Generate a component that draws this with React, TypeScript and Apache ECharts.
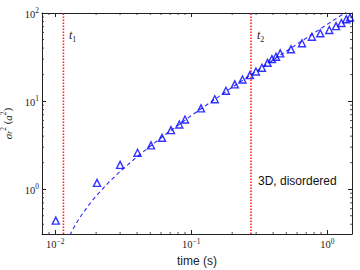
import React, { useEffect, useRef } from "react";
import * as echarts from "echarts";

const timeS = [0.0101, 0.0203, 0.030, 0.0403, 0.0506, 0.061, 0.071, 0.0817, 0.090, 0.118, 0.149, 0.18, 0.209, 0.238, 0.27, 0.299, 0.331, 0.364, 0.392, 0.42, 0.451, 0.541, 0.652, 0.771, 0.889, 1.035, 1.16, 1.27, 1.38, 1.47];
const msd = [0.44, 1.18, 1.89, 2.59, 3.14, 3.83, 4.68, 5.43, 6.19, 8.26, 10.5, 13.1, 15.5, 17.6, 19.7, 21.7, 23.9, 27.2, 30.0, 31.9, 34.8, 38.7, 45.3, 53.8, 58.8, 64.1, 71, 77, 85, 89];

const fitT = [0.0128, 0.0135, 0.015, 0.0175, 0.02, 0.025, 0.03, 0.04, 0.06, 0.1, 0.2, 0.5, 1.0, 1.5];
const fitS = [0.30, 0.35, 0.465, 0.65, 0.84, 1.215, 1.59, 2.34, 3.84, 6.84, 14.34, 36.84, 74.34, 111.84];

const t1 = 0.0115;
const t2 = 0.275;

const xMin = 0.008;
const xMax = 1.52;
const yMin = 0.31;
const yMax = 100;

const minorX = [0.009, 0.02, 0.03, 0.04, 0.05, 0.06, 0.07, 0.08, 0.09, 0.2, 0.3, 0.4, 0.5, 0.6, 0.7, 0.8, 0.9];
const minorY = [0.4, 0.5, 0.6, 0.7, 0.8, 0.9, 2, 3, 4, 5, 6, 7, 8, 9, 20, 30, 40, 50, 60, 70, 80, 90];

const AX = "#222";
const SERIF = "'Liberation Serif', 'DejaVu Serif', serif";
const SANS = "'Liberation Sans', Arial, sans-serif";

const tickRich = {
  b: { fontSize: 10.5, fontFamily: SERIF, color: AX, lineHeight: 13, verticalAlign: "bottom" },
  s: { fontSize: 7.5, fontFamily: SERIF, color: AX, lineHeight: 13, verticalAlign: "top", padding: [0, 0, 4, 0] },
};

function powFmt(v: number) {
  const l = Math.log10(v);
  const e = Math.round(l);
  if (Math.abs(l - e) > 1e-6) return "";
  return `{b|10}{s|${e < 0 ? "\u2212" : ""}${Math.abs(e)}}`;
}

function vLine(t: number) {
  return {
    type: "line",
    data: [[t, yMin], [t, yMax]],
    showSymbol: false,
    symbol: "none",
    silent: true,
    lineStyle: { color: "#ff2020", width: 1.6, type: [1.5, 1.5] },
    z: 1,
  };
}

export default function App() {
  const ref = useRef<HTMLDivElement>(null);
  useEffect(() => {
    if (!ref.current) return;
    const chart = echarts.init(ref.current, undefined, { renderer: "svg" });
    const grid = { left: 42, top: 13, right: 8, bottom: 36, containLabel: false, outerBoundsMode: "none" };
    const xBase = {
      type: "log" as const,
      min: xMin,
      max: xMax,
      logBase: 10,
      splitLine: { show: false },
      axisLine: { show: true, onZero: false, lineStyle: { color: AX, width: 1 } },
      axisTick: { show: true, inside: true, length: 4, lineStyle: { color: AX, width: 1 } },
    };
    const yBase = {
      type: "log" as const,
      min: yMin,
      max: yMax,
      logBase: 10,
      splitLine: { show: false },
      axisLine: { show: true, onZero: false, lineStyle: { color: AX, width: 1 } },
      axisTick: { show: true, inside: true, length: 4, lineStyle: { color: AX, width: 1 } },
    };
    chart.setOption({
      animation: false,
      backgroundColor: "#fff",
      grid,
      xAxis: [
        {
          ...xBase,
          position: "bottom",
          name: "time (s)",
          nameLocation: "middle",
          nameGap: 19,
          nameTextStyle: { fontFamily: SANS, fontSize: 12, color: AX },
          axisLabel: { show: true, margin: 3, formatter: powFmt, rich: tickRich, showMinLabel: true, showMaxLabel: true },
        },
        { ...xBase, position: "top", axisLabel: { show: false } },
      ],
      yAxis: [
        {
          ...yBase,
          position: "left",
          name: "{i|σ}{sub|r}{sup|2} ({i|a}{sup|2})",
          nameLocation: "middle",
          nameGap: 22,
          nameRotate: 90,
          nameTextStyle: {
            rich: {
              i: { fontFamily: SERIF, fontStyle: "italic", fontSize: 11, color: AX, lineHeight: 14, verticalAlign: "bottom" },
              sub: { fontFamily: SERIF, fontStyle: "italic", fontSize: 7.5, color: AX, lineHeight: 14, verticalAlign: "bottom" },
              sup: { fontFamily: SERIF, fontSize: 7.5, color: AX, lineHeight: 14, verticalAlign: "top" },
            },
            fontFamily: SERIF,
            fontSize: 11,
            color: AX,
          },
          axisLabel: { show: true, margin: 3, formatter: powFmt, rich: tickRich, showMinLabel: true, showMaxLabel: true },
        },
        { ...yBase, position: "right", axisLabel: { show: false } },
      ],
      series: [
        vLine(t1),
        vLine(t2),
        {
          type: "line",
          data: fitT.map((t, i) => [t, fitS[i]]),
          showSymbol: false,
          symbol: "none",
          lineStyle: { color: "#2b2bff", width: 1.1, type: [4, 3] },
          clip: true,
          z: 2,
        },
        {
          type: "scatter",
          data: timeS.map((t, i) => [t, msd[i]]),
          symbol: "triangle",
          symbolSize: 7,
          itemStyle: { color: "rgba(255,255,255,0)", borderColor: "#0000ff", borderWidth: 1.4 },
          z: 3,
        },
        {
          type: "custom",
          silent: true,
          data: minorX.map((v) => [v, yMin]),
          clip: false,
          renderItem: (_p: any, api: any) => {
            const v = api.value(0);
            const b = api.coord([v, yMin]);
            const t = api.coord([v, yMax]);
            const st = { stroke: AX, lineWidth: 0.8 };
            return {
              type: "group",
              children: [
                { type: "line", shape: { x1: b[0], y1: b[1], x2: b[0], y2: b[1] - 2 }, style: st },
                { type: "line", shape: { x1: t[0], y1: t[1], x2: t[0], y2: t[1] + 2 }, style: st },
              ],
            };
          },
        },
        {
          type: "custom",
          silent: true,
          data: minorY.map((v) => [xMin, v]),
          clip: false,
          renderItem: (_p: any, api: any) => {
            const v = api.value(1);
            const l = api.coord([xMin, v]);
            const r = api.coord([xMax, v]);
            const st = { stroke: AX, lineWidth: 0.8 };
            return {
              type: "group",
              children: [
                { type: "line", shape: { x1: l[0], y1: l[1], x2: l[0] + 2, y2: l[1] }, style: st },
                { type: "line", shape: { x1: r[0], y1: r[1], x2: r[0] - 2, y2: r[1] }, style: st },
              ],
            };
          },
        },
      ],
      graphic: [
        {
          type: "text",
          x: 69,
          y: 27,
          style: {
            text: "{t|t}{s|1}",
            rich: {
              t: { fontFamily: SERIF, fontStyle: "italic", fontSize: 12, fill: AX, lineHeight: 14, verticalAlign: "bottom" },
              s: { fontFamily: SERIF, fontSize: 8, fill: AX, lineHeight: 14, verticalAlign: "bottom", padding: [0, 0, -2, 0] },
            },
          },
        },
        {
          type: "text",
          x: 257,
          y: 27,
          style: {
            text: "{t|t}{s|2}",
            rich: {
              t: { fontFamily: SERIF, fontStyle: "italic", fontSize: 12, fill: AX, lineHeight: 14, verticalAlign: "bottom" },
              s: { fontFamily: SERIF, fontSize: 8, fill: AX, lineHeight: 14, verticalAlign: "bottom", padding: [0, 0, -2, 0] },
            },
          },
        },
        {
          type: "text",
          x: 258,
          y: 175,
          style: { text: "3D, disordered", fontFamily: SANS, fontSize: 12, fill: "#111" },
        },
      ],
    });
    return () => chart.dispose();
  }, []);
  return <div ref={ref} style={{ width: 360, height: 270, position: "absolute", left: 0, top: 0 }} />;
}
